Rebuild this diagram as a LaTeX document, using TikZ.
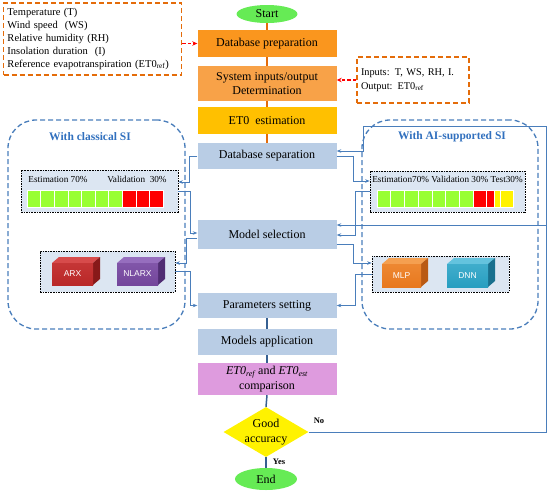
\documentclass[tikz,border=0pt]{standalone}
\usepackage{fontspec}
\setmainfont{Liberation Serif}
\newfontfamily\sansf{Liberation Sans}
\usetikzlibrary{shapes.geometric,arrows.meta,calc}
\definecolor{startgreen}{RGB}{102,235,85}
\definecolor{prepor}{RGB}{250,150,30}
\definecolor{sysor}{RGB}{248,162,72}
\definecolor{etgold}{RGB}{255,192,0}
\definecolor{boxblue}{RGB}{185,205,229}
\definecolor{comppink}{RGB}{222,155,222}
\definecolor{dashor}{RGB}{228,108,10}
\definecolor{trunkor}{RGB}{228,108,10}
\definecolor{trunkblue}{RGB}{54,96,146}
\definecolor{connblue}{RGB}{74,126,187}
\definecolor{titleblue}{RGB}{49,112,190}
\definecolor{panelfill}{RGB}{220,230,242}
\definecolor{cellgreen}{RGB}{153,255,51}
\definecolor{arxF}{RGB}{185,40,40}
\definecolor{arxT}{RGB}{215,75,75}
\definecolor{arxS}{RGB}{135,25,25}
\definecolor{nlF}{RGB}{115,70,155}
\definecolor{nlT}{RGB}{150,110,190}
\definecolor{nlS}{RGB}{80,45,115}
\definecolor{mlpF}{RGB}{232,120,30}
\definecolor{mlpT}{RGB}{245,160,80}
\definecolor{mlpS}{RGB}{185,90,20}
\definecolor{dnnF}{RGB}{40,158,192}
\definecolor{dnnT}{RGB}{100,195,222}
\definecolor{dnnS}{RGB}{25,112,142}
\newcommand\mycube[9]{%
  \fill[#6] (#1,#2) -- ++(7,-6) -- ++(#3,0) -- ++(-7,6) -- cycle;
  \fill[#7] (#1+#3,#2) -- ++(7,-6) -- ++(0,#4) -- ++(-7,6) -- cycle;
  \shade[top color=#6!40!#5, bottom color=#5] (#1,#2) rectangle ++(#3,#4);
  \node[blocklabel] (#9) at (#1+#3/2,#2+#4/2) {#8};
}
\begin{document}
\begin{tikzpicture}[x=1pt,y=-1pt,
  mainbox/.style={rectangle, minimum width=139pt, inner sep=0pt, align=center,
    font=\fontsize{12}{14}\selectfont},
  ell/.style={ellipse, inner sep=0pt, font=\fontsize{12}{14}\selectfont},
  panel/.style={rectangle, fill=panelfill, draw=black, line width=0.6pt,
    dash pattern=on 1.6pt off 1pt, inner sep=0pt},
  roundbox/.style={rectangle, draw=connblue, line width=1.3pt,
    dash pattern=on 5pt off 3pt, rounded corners=28pt, inner sep=0pt},
  orbox/.style={rectangle, draw=dashor, line width=1.5pt,
    dash pattern=on 5pt off 3pt, align=left},
  redarrow/.style={draw=red, line width=1.4pt, dash pattern=on 3.5pt off 2pt,
    -{Stealth[length=5pt,width=4.5pt]}},
  conn/.style={draw=connblue, line width=0.8pt, -{Stealth[length=4.5pt,width=3.5pt]}},
  orline/.style={draw=trunkor, line width=1.3pt},
  blline/.style={draw=trunkblue, line width=1.5pt},
  blocklabel/.style={text=white, font=\sansf\fontsize{8.5}{10}\selectfont, inner sep=0pt},
  titletext/.style={text=titleblue, font=\bfseries\fontsize{11.5}{13}\selectfont},
  smalltext/.style={font=\fontsize{9.2}{11}\selectfont, inner sep=0pt},
  yn/.style={font=\bfseries\fontsize{8.5}{10}\selectfont, inner sep=0pt}
]
\useasboundingbox (0,0) rectangle (550,491);

% side dashed rounded containers
\node[roundbox, minimum width=177pt, minimum height=209pt] (clsbox) at (96.5,224.5) {};
\node[roundbox, minimum width=176pt, minimum height=209pt] (aibox) at (450,224.5) {};
\node[titletext] (clstitle) at (90,137) {With classical SI};
\node[titletext] (aititle) at (452,137) {With AI-supported SI};

% central column
\node[ell, fill=startgreen, minimum width=61pt, minimum height=18pt] (start) at (267,14) {Start};
\node[mainbox, fill=prepor, minimum height=27pt] (dbprep) at (267,43.5) {Database preparation};
\node[mainbox, fill=sysor, minimum height=35pt] (sysio) at (267,83.5) {System inputs/output\\Determination};
\node[mainbox, fill=etgold, minimum height=27pt] (et0) at (267,120.5) {ET0~ estimation};
\node[mainbox, fill=boxblue, minimum height=26pt] (dbsep) at (267,156) {Database separation};
\node[mainbox, fill=boxblue, minimum height=29pt] (modsel) at (267,234.5) {Model selection};
\node[mainbox, fill=boxblue, minimum height=25pt] (parset) at (267,305.5) {Parameters setting};
\node[mainbox, fill=boxblue, minimum height=26pt] (modapp) at (267,342) {Models application};
\node[mainbox, fill=comppink, minimum height=32pt, font=\fontsize{12}{15}\selectfont] (comp) at (267,379)
  {\textit{ET0\textsubscript{ref}} and \textit{ET0\textsubscript{est}}\\comparison};
\node[diamond, fill=yellow, minimum width=85pt, minimum height=50pt, inner sep=0pt, aspect=1.7] (dia) at (266,432) {};
\node[align=center, font=\fontsize{12}{15}\selectfont, inner sep=0pt] (diatext) at (dia) {Good\\accuracy};
\node[ell, fill=startgreen, minimum width=62pt, minimum height=22pt] (end) at (266,479) {End};
\node[yn] (yes) at (279,462) {Yes};
\node[yn] (no) at (319,421) {No};

% trunk lines
\draw[orline] (start.south) -- (dbprep.north);
\draw[orline] (dbprep.south) -- (sysio.north);
\draw[orline] (sysio.south) -- (et0.north);
\draw[orline] (et0.south) -- (dbsep.north);
\draw[blline] (parset.south) -- (modapp.north);
\draw[blline] (modapp.south) -- (comp.north);
\draw[blline] (comp.south) -- (dia.north);
\draw[blline] (dia.south) -- (end.north);

% input / output boxes
\node[orbox, minimum width=178pt, minimum height=72pt, text width=170pt, inner sep=3pt,
  font=\fontsize{10.5}{12.8}\selectfont] (inbox) at (92.5,39)
  {Temperature (T)\\Wind speed~ (WS)\\Relative humidity (RH)\\Insolation duration~ (I)\\Reference evapotranspiration (ET0\textsubscript{ref})};
\node[orbox, minimum width=112pt, minimum height=46pt, text width=104pt, inner sep=3pt,
  font=\fontsize{10.3}{14}\selectfont] (outbox) at (413,80)
  {Inputs: T, WS, RH, I.\\Output: ET0\textsubscript{ref}};
\draw[redarrow] (inbox.east |- dbprep.west) -- (dbprep.west);
\draw[redarrow] (outbox.west) -- (outbox.west -| sysio.east);

% classical panels
\node[panel, minimum width=157pt, minimum height=42pt] (estL) at (99.5,191) {};
\node[smalltext] (estLa) at (58,179) {Estimation 70\%};
\node[smalltext] (estLb) at (137,179) {Validation~ 30\%};
\foreach \i in {0,...,6} \fill[cellgreen, draw=white, line width=0.5pt] (27+\i*13.6,190) rectangle ++(13.6,17);
\foreach \i in {7,8,9} \fill[red, draw=white, line width=0.5pt] (27+\i*13.6,190) rectangle ++(13.6,17);

\node[panel, minimum width=135pt, minimum height=41pt] (arxP) at (107.5,271.5) {};
\mycube{52}{263}{41}{22}{arxF}{arxT}{arxS}{ARX}{arx}
\mycube{117}{263}{41}{22}{nlF}{nlT}{nlS}{NLARX}{nlarx}

% AI panels
\node[panel, minimum width=155pt, minimum height=41pt] (estR) at (447.5,191.5) {};
\node[smalltext] (estRa) at (447.5,179.5) {Estimation70\% Validation 30\% Test30\%};
\foreach \i in {0,...,6} \fill[cellgreen, draw=white, line width=0.5pt] (377+\i*13.7,190) rectangle ++(13.7,17);
\fill[red, draw=white, line width=0.5pt] (472.9,190) rectangle (486,207);
\fill[red, draw=white, line width=0.5pt] (486,190) rectangle (494.5,207);
\fill[yellow, draw=white, line width=0.5pt] (494.5,190) rectangle (500,207);
\fill[yellow, draw=white, line width=0.5pt] (500,190) rectangle (513,207);

\node[panel, minimum width=137pt, minimum height=36pt] (mlpP) at (440.5,274) {};
\mycube{382}{264}{39}{23}{mlpF}{mlpT}{mlpS}{MLP}{mlp}
\mycube{447}{264}{41}{23}{dnnF}{dnnT}{dnnS}{DNN}{dnn}

% left connectors
\draw[conn] (dbsep.west) -- (189,156) |- ([yshift=9pt]estL.east);
\draw[conn] (estL.east) -- (190.5,191) |- ([yshift=1.5pt]modsel.west);
\draw[conn] ([yshift=-3.5pt]modsel.west) -- (186,238) |- ([yshift=8.5pt]arxP.east);
\draw[conn] (arxP.east) -- (190.5,271.5) |- (parset.west);

% right connectors
\draw[conn] (dbsep.east) -- (353,156) |- ([yshift=10.5pt]estR.west);
\draw[conn] (estR.west) -- (355,191.5) |- ([yshift=-0.5pt]modsel.east);
\draw[conn] ([yshift=-10pt]modsel.east) -- (353,244.5) |- ([yshift=11pt]mlpP.west);
\draw[conn] (mlpP.west) -- (355,274) |- (parset.east);

% feedback loop
\coordinate (fbtop) at (546,126);
\coordinate (fbmid) at (546,225);
\draw[conn] (dia.east) -| (fbtop) -- (363,126) |- ([yshift=5pt]dbsep.east);
\draw[conn] (fbmid) -- (fbmid -| modsel.east);
\end{tikzpicture}
\end{document}
